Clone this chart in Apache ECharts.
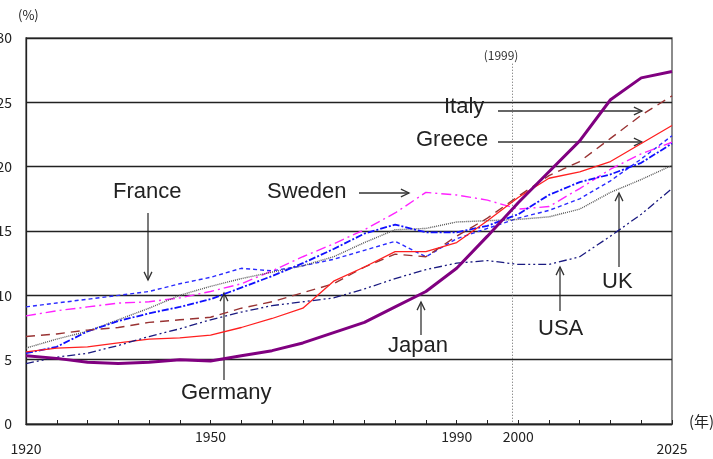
<!DOCTYPE html>
<html>
<head>
<meta charset="utf-8">
<script src="https://cdn.jsdelivr.net/npm/echarts@6/dist/echarts.min.js"></script>
<style>
  html, body { margin: 0; padding: 0; background: #fff; }
  #main { width: 713px; height: 459px; }
</style>
</head>
<body>
<div id="main"></div>
<script>
// years 1920..2025, step 5
var years = [1920,1925,1930,1935,1940,1945,1950,1955,1960,1965,1970,1975,1980,1985,1990,1995,2000,2005,2010,2015,2020,2025];

var japan   = [5.3,5.1,4.8,4.7,4.8,5.0,4.9,5.3,5.7,6.3,7.1,7.9,9.1,10.3,12.1,14.6,17.2,19.6,22.0,25.2,26.9,27.4];
var italy   = [6.8,7.0,7.3,7.5,7.9,8.1,8.3,9.0,9.5,10.2,10.9,12.2,13.2,13.0,14.6,16.0,17.7,19.3,20.4,22.2,24.0,25.5];
var greece  = [5.6,5.9,6.0,6.3,6.6,6.7,6.9,7.5,8.2,9.0,11.1,12.2,13.4,13.4,14.1,15.8,17.6,19.1,19.6,20.4,21.8,23.2];
var sweden  = [8.4,8.8,9.1,9.4,9.5,9.8,10.3,10.9,11.9,13.0,14.0,15.1,16.4,18.0,17.8,17.4,16.7,16.9,18.3,19.8,21.0,21.9];
var france  = [9.1,9.4,9.7,10.0,10.3,10.9,11.4,12.1,11.9,12.3,12.8,13.5,14.2,13.0,14.4,15.2,16.0,16.6,17.5,18.9,20.6,22.4];
var germany = [5.5,6.0,7.2,8.0,8.6,9.1,9.7,10.6,11.5,12.5,13.6,14.8,15.5,14.9,14.9,15.4,16.3,17.8,18.8,19.4,20.3,21.8];
var uk      = [5.9,6.6,7.2,8.1,9.0,10.0,10.7,11.3,11.8,12.3,13.0,14.1,15.1,15.2,15.7,15.8,15.9,16.1,16.7,18.0,19.0,20.1];
var usa     = [4.7,5.2,5.5,6.1,6.8,7.4,8.1,8.7,9.2,9.5,9.8,10.5,11.3,12.0,12.5,12.7,12.4,12.4,13.0,14.6,16.3,18.3];

var xLabelsMid = [1950, 1990, 2000];
var xLabelsLow = [1920, 2025];
var markYear = 1999;

var chart = echarts.init(document.getElementById('main'));

function pairs(vals) {
    var out = [];
    for (var i = 0; i < years.length; i++) {
        out.push([years[i], vals[i]]);
    }
    return out;
}

function line(name, vals, color, width, dash) {
    return {
        name: name,
        type: 'line',
        data: pairs(vals),
        symbol: 'none',
        silent: true,
        lineStyle: { color: color, width: width, type: dash }
    };
}

var txtFont = '"Liberation Sans", Arial, sans-serif';
var cjkFont = '"Noto Sans CJK JP", sans-serif';

function label(text, x, y) {
    return {
        type: 'text', left: x, top: y,
        style: { text: text, fill: '#222', font: '22px ' + txtFont }
    };
}

// arrow: tail (x1,y1) -> head (x2,y2), open head
function arrow(x1, y1, x2, y2) {
    var ang = Math.atan2(y2 - y1, x2 - x1);
    var len = 9, spread = 0.45;
    var a = [x2 - len * Math.cos(ang - spread), y2 - len * Math.sin(ang - spread)];
    var b = [x2 - len * Math.cos(ang + spread), y2 - len * Math.sin(ang + spread)];
    return [
        { type: 'line', shape: { x1: x1, y1: y1, x2: x2, y2: y2 }, style: { stroke: '#333', lineWidth: 1.3 } },
        { type: 'polyline', shape: { points: [a, [x2, y2], b] }, style: { stroke: '#333', lineWidth: 1.3, fill: null } }
    ];
}

var graphics = [
    { type: 'text', left: 18, top: 9, style: { text: '(%)', fill: '#222', font: '13px ' + cjkFont } },
    { type: 'text', left: 689, top: 414, style: { text: '(年)', fill: '#222', font: '15px ' + cjkFont } },
    label('Italy', 444, 96),
    label('Greece', 416, 129),
    label('Sweden', 267, 181),
    label('France', 113, 181),
    label('Germany', 181, 382),
    label('Japan', 388, 335),
    label('USA', 538, 318),
    label('UK', 602, 271)
];
graphics = graphics
    .concat(arrow(498, 111, 642, 111))
    .concat(arrow(498, 142, 642, 142))
    .concat(arrow(359, 193, 409, 193))
    .concat(arrow(148, 213, 148, 280))
    .concat(arrow(224, 380, 224, 293))
    .concat(arrow(421, 335, 421, 302))
    .concat(arrow(560, 311, 560, 267))
    .concat(arrow(619, 267, 619, 193));

var japanSeries = line('Japan', japan, '#800080', 3, 'solid');
japanSeries.z = 5;

var usaSeries = line('USA', usa, '#1a1a80', 1.3, [8, 3, 2, 3, 2, 3]);
usaSeries.markLine = {
    silent: true,
    symbol: ['none', 'none'],
    lineStyle: { color: '#666', type: [1, 2], width: 1 },
    label: {
        show: true, position: 'start', formatter: '(' + markYear + ')',
        color: '#333', fontSize: 12, fontFamily: cjkFont, distance: 2,
        offset: [-11, 0]
    },
    data: [[{ coord: [markYear, 28.0] }, { coord: [markYear, 0] }]]
};

var option = {
    animation: false,
    backgroundColor: '#fff',
    grid: {
        left: 26, right: 41, top: 38, bottom: 35,
        containLabel: false, outerBoundsMode: 'none',
        show: true, borderColor: '#666', borderWidth: 1.5, backgroundColor: 'transparent'
    },
    xAxis: {
        type: 'value', min: 1920, max: 2025, interval: 5,
        axisLine: { lineStyle: { color: '#222', width: 1.3 } },
        axisTick: { inside: true, length: 4, lineStyle: { color: '#222' } },
        splitLine: { show: false },
        axisLabel: {
            margin: 6,
            color: '#222', fontSize: 14, fontFamily: cjkFont,
            showMinLabel: true, showMaxLabel: true, hideOverlap: false,
            formatter: function (v) {
                if (xLabelsLow.indexOf(v) >= 0) return '{lo|' + v + '}';
                if (xLabelsMid.indexOf(v) >= 0) return String(v);
                return '';
            },
            rich: { lo: { padding: [12, 0, 0, 0], color: '#222', fontSize: 14, fontFamily: cjkFont } }
        }
    },
    yAxis: {
        type: 'value', min: 0, max: 30, interval: 5,
        axisLine: { show: true, lineStyle: { color: '#222', width: 1.3 } },
        axisTick: { show: false },
        splitLine: { lineStyle: { color: '#222', width: 1.3 } },
        axisLabel: { margin: 14, color: '#222', fontSize: 14, fontFamily: cjkFont }
    },
    graphic: graphics,
    series: [
        line('France', france, '#2a2aff', 1.4, [4, 3]),
        line('Sweden', sweden, '#ff22ff', 1.4, [10, 4, 2, 4]),
        line('UK', uk, '#555555', 1.4, [1, 1]),
        line('Germany', germany, '#1010ff', 1.8, [7, 2, 2, 2]),
        line('Italy', italy, '#993333', 1.4, [9, 6]),
        line('Greece', greece, '#ff2020', 1.3, 'solid'),
        usaSeries,
        japanSeries
    ]
};

chart.setOption(option);
</script>
</body>
</html>
